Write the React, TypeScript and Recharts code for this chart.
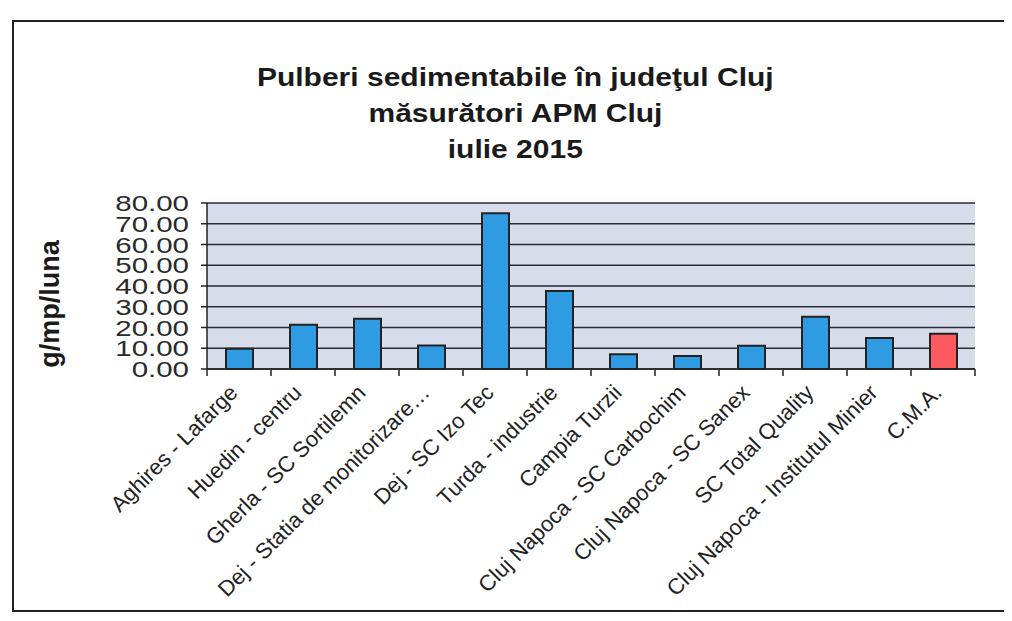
import React from "react";
import { BarChart, Bar, XAxis, YAxis, CartesianGrid, Cell, ReferenceLine } from "recharts";

const categories = [
  "Aghires - Lafarge",
  "Huedin - centru",
  "Gherla - SC Sortilemn",
  "Dej - Statia de monitorizare…",
  "Dej - SC Izo Tec",
  "Turda - industrie",
  "Campia Turzii",
  "Cluj Napoca - SC Carbochim",
  "Cluj Napoca - SC Sanex",
  "SC Total Quality",
  "Cluj Napoca - Institutul Minier",
  "C.M.A.",
];
const values = [9.8, 21.3, 24.2, 11.3, 75.1, 37.6, 7.1, 6.3, 11.2, 25.2, 15.0, 17.0];
const limitCategory = "C.M.A.";
const yTicks = [0, 10, 20, 30, 40, 50, 60, 70, 80];
const titleLines = ["Pulberi sedimentabile în judeţul Cluj", "măsurători APM Cluj", "iulie 2015"];
const yAxisTitle = "g/mp/luna";

const data = categories.map((name, i) => ({ name, idx: i, value: values[i] }));

const FONT = "'Liberation Sans', Arial, sans-serif";

const XTick = (props: any) => {
  const { x, y, payload, width, visibleTicksCount, index } = props;
  const half = width / visibleTicksCount / 2;
  return (
    <g>
      <line x1={x - half} x2={x - half} y1={y} y2={y + 7} stroke="#222" strokeWidth={1.5} />
      {index === visibleTicksCount - 1 && (
        <line x1={x + half} x2={x + half} y1={y} y2={y + 7} stroke="#222" strokeWidth={1.5} />
      )}
      <g transform={`translate(${x},${y + 25})`}>
        <text x={0} y={0} textAnchor="end" transform="rotate(-45)" fontSize={22} fill="#222" fontFamily={FONT}>
          {payload.value}
        </text>
      </g>
    </g>
  );
};

const YTick = (props: any) => {
  const { x, y, payload } = props;
  return (
    <g transform={`translate(${x},${y}) scale(1.34,1)`}>
      <text x={0} y={0} dy={8} textAnchor="end" fontSize={22} fill="#2a2a2a" fontFamily={FONT}>
        {Number(payload.value).toFixed(2)}
      </text>
    </g>
  );
};

export default function App() {
  return (
    <div style={{ position: "relative", width: 1000, height: 610, background: "#fff" }}>
      <div
        style={{
          position: "absolute",
          left: 4,
          top: 12,
          width: 996,
          height: 592,
          border: "2px solid #222",
          boxSizing: "border-box",
        }}
      />
      <div
        style={{
          position: "absolute",
          left: 0,
          top: 51,
          width: 1014,
          textAlign: "center",
          fontFamily: FONT,
          fontWeight: "bold",
          fontSize: 25,
          lineHeight: "36px",
          color: "#1a1a1a",
        }}
      >
        {titleLines.map((t) => (
          <div key={t}>
            <span style={{ display: "inline-block", transform: "scaleX(1.2)" }}>{t}</span>
          </div>
        ))}
      </div>
      <div
        style={{
          position: "absolute",
          left: 42,
          top: 296,
          transform: "translate(-50%,-50%) rotate(-90deg)",
          fontFamily: FONT,
          fontWeight: "bold",
          fontSize: 27,
          color: "#1a1a1a",
          whiteSpace: "nowrap",
        }}
      >
        {yAxisTitle}
      </div>
      <div style={{ position: "absolute", left: 0, top: 0 }}>
        <BarChart width={1000} height={610} data={data} margin={{ top: 195, right: 33, left: 0, bottom: 0 }}>
          <CartesianGrid
            xAxisId="cat"
            vertical={false}
            fill="#d6dcea"
            stroke="#2a2a36"
            strokeWidth={1.6}
            strokeOpacity={1}
          />
          <XAxis xAxisId="b" type="number" domain={[0, 12]} hide height={0} allowDataOverflow />
          <XAxis
            xAxisId="cat"
            dataKey="name"
            interval={0}
            height={249}
            tickLine={false}
            tickSize={0}
            tickMargin={0}
            axisLine={{ stroke: "#222", strokeWidth: 1.5 }}
            tick={<XTick />}
          />
          <YAxis
            width={199}
            domain={[0, 80]}
            ticks={yTicks}
            interval={0}
            tickSize={6}
            tickMargin={12}
            tick={<YTick />}
            tickLine={{ stroke: "#222", strokeWidth: 1.5 }}
            axisLine={{ stroke: "#222", strokeWidth: 1.5 }}
          />
          <ReferenceLine xAxisId="b" x={12} stroke="#8a8f9a" strokeWidth={1.5} />
          <Bar
            xAxisId="cat"
            dataKey="value"
            barSize={27}
            stroke="#222"
            strokeWidth={2}
            isAnimationActive={false}
          >
            {data.map((d) => (
              <Cell key={d.name} fill={d.name === limitCategory ? "#fb5b60" : "#2e9be3"} />
            ))}
          </Bar>
        </BarChart>
      </div>
    </div>
  );
}
